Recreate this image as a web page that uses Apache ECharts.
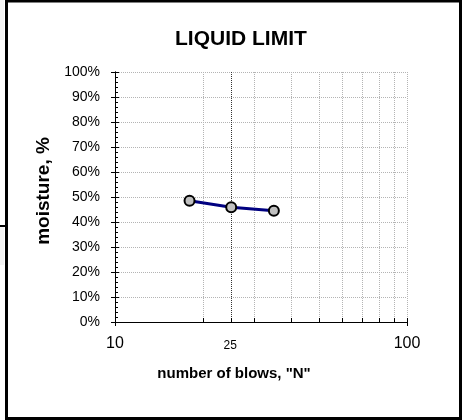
<!DOCTYPE html>
<html>
<head>
<meta charset="utf-8">
<script src="https://cdn.jsdelivr.net/npm/echarts@6/dist/echarts.min.js"></script>
<style>
  html, body { margin: 0; padding: 0; background: #fff; }
  #main { width: 466px; height: 420px; }
</style>
</head>
<body>
<div id="main"></div>
<script>
// blow counts and measured moisture (%)
const blows = [18, 25, 35]
const moisture = [48.5, 45.9, 44.5]
// log-scale minor gridlines between 10 and 100
const minorBlows = [20, 30, 40, 50, 60, 70, 80, 90]
// reference blow count for the liquid limit
const refBlows = [25]

const FONT = 'Liberation Sans'

function crisp (v) {
  return Math.round(v) + 0.5
}

// dotted gridline + small tick for every minor log value
function renderMinor (params, api) {
  const v = api.value(0)
  const top = api.coord([v, 100])
  const bot = api.coord([v, 0])
  const x = crisp(bot[0])
  return {
    type: 'group',
    children: [
      { type: 'line', shape: { x1: x, y1: top[1], x2: x, y2: bot[1] }, style: { stroke: '#b4b4b4', lineWidth: 1, lineDash: [1, 1] } },
      { type: 'line', shape: { x1: x, y1: bot[1] - 4, x2: x, y2: bot[1] }, style: { stroke: '#000', lineWidth: 1 } }
    ]
  }
}

// the darker line at N = 25 with its small label
function renderRef (params, api) {
  const v = api.value(0)
  const top = api.coord([v, 100])
  const bot = api.coord([v, 0])
  const x = crisp(bot[0])
  return {
    type: 'group',
    children: [
      { type: 'line', shape: { x1: x, y1: top[1], x2: x, y2: bot[1] }, style: { stroke: '#333', lineWidth: 1, lineDash: [1, 1] } },
      { type: 'line', shape: { x1: x, y1: bot[1] - 4, x2: x, y2: bot[1] }, style: { stroke: '#000', lineWidth: 1 } },
      { type: 'text', x: bot[0] - 1, y: bot[1] + 18, style: { text: String(v), fontFamily: FONT, fontSize: 12, fill: '#000', align: 'center', verticalAlign: 'top' } }
    ]
  }
}

let option = {
  backgroundColor: '#fff',
  animation: false,
  title: {
    text: 'LIQUID LIMIT',
    left: 175,
    top: 29,
    padding: 0,
    textStyle: { fontFamily: FONT, fontSize: 21, fontWeight: 'bold', color: '#000' }
  },
  grid: { left: 115, right: 59, top: 72, bottom: 98 },
  xAxis: [
    {
      type: 'log',
      logBase: 10,
      min: 10,
      max: 100,
      name: 'number of blows, "N"',
      nameLocation: 'middle',
      nameGap: 44,
      nameTextStyle: { fontFamily: FONT, fontSize: 15, fontWeight: 'bold', color: '#000', padding: [0, 54, 0, 0] },
      axisLine: { lineStyle: { color: '#000', width: 1 } },
      axisTick: { inside: true, length: 4, lineStyle: { color: '#000' } },
      axisLabel: { fontFamily: FONT, fontSize: 16, color: '#000', margin: 14 },
      splitLine: { show: true, lineStyle: { color: '#b4b4b4', type: [1, 1] } }
    },
    {
      type: 'log',
      logBase: 10,
      min: 10,
      max: 100,
      position: 'bottom',
      axisLine: { lineStyle: { color: '#000', width: 1 } },
      axisTick: { inside: false, length: 4, lineStyle: { color: '#000' } },
      axisLabel: { show: false },
      splitLine: { show: false }
    }
  ],
  yAxis: [
    {
      type: 'value',
      min: 0,
      max: 100,
      interval: 10,
      name: 'moisture, %',
      nameLocation: 'middle',
      nameRotate: 90,
      nameGap: 56,
      nameTextStyle: { fontFamily: FONT, fontSize: 19, fontWeight: 'bold', color: '#000', padding: [0, 0, 0, 12] },
      axisLine: { show: true, lineStyle: { color: '#000', width: 1 } },
      axisTick: { show: true, inside: true, length: 4, lineStyle: { color: '#000' } },
      minorTick: { show: true, splitNumber: 5, length: 3, lineStyle: { color: '#000' } },
      axisLabel: { fontFamily: FONT, fontSize: 14, color: '#000', margin: 15, padding: [3, 0, 0, 0], formatter: '{value}%' },
      splitLine: { show: true, lineStyle: { color: '#b4b4b4', type: [1, 1] } }
    },
    {
      type: 'value',
      min: 0,
      max: 100,
      interval: 10,
      position: 'left',
      axisLine: { show: true, lineStyle: { color: '#000', width: 1 } },
      axisTick: { show: true, inside: false, length: 4, lineStyle: { color: '#000' } },
      axisLabel: { show: false },
      splitLine: { show: false }
    }
  ],
  series: [
    {
      type: 'custom',
      renderItem: renderMinor,
      data: minorBlows.map(v => [v]),
      encode: { x: 0 },
      silent: true,
      z: 1
    },
    {
      type: 'custom',
      renderItem: renderRef,
      data: refBlows.map(v => [v]),
      encode: { x: 0 },
      clip: false,
      silent: true,
      z: 2
    },
    {
      type: 'line',
      data: blows.map((b, i) => [b, moisture[i]]),
      symbol: 'circle',
      symbolSize: 10,
      lineStyle: { color: '#000080', width: 2.8 },
      itemStyle: { color: '#c0c0c0', borderColor: '#000', borderWidth: 2 },
      z: 5
    }
  ],
  graphic: [
    { type: 'rect', shape: { x: 0, y: 0, width: 4, height: 40 }, style: { fill: '#f3f3f3' }, silent: true },
    { type: 'rect', shape: { x: 0, y: 227, width: 4, height: 38 }, style: { fill: '#f3f3f3' }, silent: true },
    { type: 'line', shape: { x1: 0, y1: 226, x2: 7, y2: 226 }, style: { stroke: '#000', lineWidth: 2 }, silent: true },
    { type: 'rect', shape: { x: 6.5, y: 1, width: 454, height: 417.5 }, style: { fill: null, stroke: '#000', lineWidth: 3 }, silent: true }
  ]
}

let myChart = echarts.init(document.getElementById('main'))
myChart.setOption(option)
</script>
</body>
</html>
